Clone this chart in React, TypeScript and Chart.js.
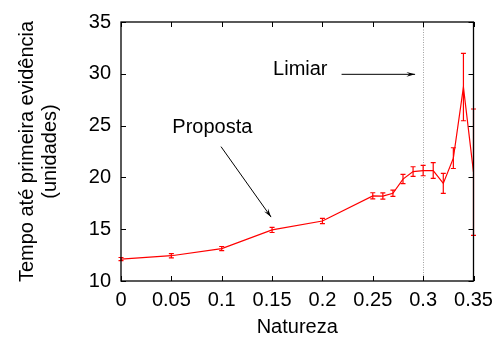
import React, { useEffect, useRef } from "react";
import { Chart, registerables } from "chart.js";

Chart.register(...registerables);

// Natureza values (x) and mean time to first evidence (y) with ± error
const natureza = [0, 0.05, 0.1, 0.15, 0.2, 0.25, 0.26, 0.27, 0.28, 0.29, 0.3, 0.31, 0.32, 0.33, 0.34, 0.35];
const tempo = [12.12, 12.44, 13.13, 14.93, 15.79, 18.22, 18.2, 18.47, 19.84, 20.56, 20.66, 20.66, 19.42, 21.86, 28.72, 20.5];
const erro = [0.15, 0.2, 0.2, 0.25, 0.25, 0.3, 0.3, 0.3, 0.45, 0.47, 0.5, 0.76, 0.97, 1.0, 3.25, 6.1];

const xTicks = [0, 0.05, 0.1, 0.15, 0.2, 0.25, 0.3, 0.35];
const yTicks = [10, 15, 20, 25, 30, 35];

const limiar = 0.3;

// Annotation anchors in data coordinates
const limiarLabel = { text: "Limiar", x: 0.151, y: 29.84 };
const limiarArrow = { x0: 0.219, y0: 29.95, x1: 0.292, y1: 29.95 };
const propostaLabel = { text: "Proposta", x: 0.051, y: 24.33 };
const propostaArrow = { x0: 0.0993, y0: 22.97, x1: 0.149, y1: 16.17 };

const FONT = '"Liberation Sans", Arial, Helvetica, sans-serif';
const FS = 20;
const RED = "#ff0000";

function drawArrow(ctx: CanvasRenderingContext2D, x0: number, y0: number, x1: number, y1: number) {
  const ang = Math.atan2(y1 - y0, x1 - x0);
  const head = 9;
  const spread = 0.27;
  ctx.beginPath();
  ctx.moveTo(x0, y0);
  ctx.lineTo(x1, y1);
  ctx.stroke();
  ctx.beginPath();
  ctx.moveTo(x1, y1);
  ctx.lineTo(x1 - head * Math.cos(ang - spread), y1 - head * Math.sin(ang - spread));
  ctx.lineTo(x1 - head * 0.6 * Math.cos(ang), y1 - head * 0.6 * Math.sin(ang));
  ctx.lineTo(x1 - head * Math.cos(ang + spread), y1 - head * Math.sin(ang + spread));
  ctx.closePath();
  ctx.fill();
}

const decorPlugin = {
  id: "decor",
  beforeDatasetsDraw(chart: any) {
    const { ctx, chartArea: a, scales } = chart;
    const xs = scales.x;
    // threshold line
    ctx.save();
    ctx.strokeStyle = "#a0a0a0";
    ctx.lineWidth = 1;
    ctx.setLineDash([1, 1.5]);
    const lx = Math.round(xs.getPixelForValue(limiar)) + 0.5;
    ctx.beginPath();
    ctx.moveTo(lx, a.top);
    ctx.lineTo(lx, a.bottom);
    ctx.stroke();
    ctx.restore();
  },
  afterDatasetsDraw(chart: any) {
    const { ctx, chartArea: a, scales } = chart;
    const xs = scales.x;
    const ys = scales.y;

    // error bars
    ctx.save();
    ctx.strokeStyle = RED;
    ctx.lineWidth = 1.2;
    natureza.forEach((xv, i) => {
      const px = xs.getPixelForValue(xv);
      const top = ys.getPixelForValue(tempo[i] + erro[i]);
      const bot = ys.getPixelForValue(tempo[i] - erro[i]);
      ctx.beginPath();
      ctx.moveTo(px, top);
      ctx.lineTo(px, bot);
      ctx.moveTo(px - 2.5, top);
      ctx.lineTo(px + 2.5, top);
      ctx.moveTo(px - 2.5, bot);
      ctx.lineTo(px + 2.5, bot);
      ctx.stroke();
    });
    ctx.restore();

    // frame and inward ticks
    ctx.save();
    ctx.strokeStyle = "#000";
    ctx.lineWidth = 1.3;
    ctx.strokeRect(a.left, a.top, a.right - a.left, a.bottom - a.top);
    ctx.lineWidth = 1;
    ctx.beginPath();
    const tl = 5;
    xTicks.forEach((v) => {
      const p = Math.round(xs.getPixelForValue(v)) + 0.5;
      ctx.moveTo(p, a.bottom);
      ctx.lineTo(p, a.bottom - tl);
      ctx.moveTo(p, a.top);
      ctx.lineTo(p, a.top + tl);
    });
    yTicks.forEach((v) => {
      const p = Math.round(ys.getPixelForValue(v)) + 0.5;
      ctx.moveTo(a.left, p);
      ctx.lineTo(a.left + tl, p);
      ctx.moveTo(a.right, p);
      ctx.lineTo(a.right - tl, p);
    });
    ctx.stroke();
    ctx.restore();

    // annotations
    ctx.save();
    ctx.fillStyle = "#000";
    ctx.strokeStyle = "#000";
    ctx.lineWidth = 1;
    ctx.font = `${FS}px ${FONT}`;
    ctx.textAlign = "left";
    ctx.textBaseline = "alphabetic";
    ctx.fillText(limiarLabel.text, xs.getPixelForValue(limiarLabel.x), ys.getPixelForValue(limiarLabel.y));
    ctx.fillText(propostaLabel.text, xs.getPixelForValue(propostaLabel.x), ys.getPixelForValue(propostaLabel.y));
    drawArrow(
      ctx,
      xs.getPixelForValue(limiarArrow.x0),
      ys.getPixelForValue(limiarArrow.y0),
      xs.getPixelForValue(limiarArrow.x1),
      ys.getPixelForValue(limiarArrow.y1)
    );
    drawArrow(
      ctx,
      xs.getPixelForValue(propostaArrow.x0),
      ys.getPixelForValue(propostaArrow.y0),
      xs.getPixelForValue(propostaArrow.x1),
      ys.getPixelForValue(propostaArrow.y1)
    );
    ctx.restore();
  },
};

export default function App() {
  const ref = useRef<HTMLCanvasElement | null>(null);

  useEffect(() => {
    if (!ref.current) return;
    const chart = new Chart(ref.current, {
      type: "scatter",
      data: {
        datasets: [
          {
            data: natureza.map((x, i) => ({ x, y: tempo[i] })),
            showLine: true,
            borderColor: RED,
            backgroundColor: RED,
            borderWidth: 1.2,
            pointRadius: 0,
            tension: 0,
          },
        ],
      },
      options: {
        responsive: false,
        animation: false,
        events: [],
        layout: { padding: { top: 17, right: 27.5, left: 0, bottom: 0 } },
        plugins: { legend: { display: false }, tooltip: { enabled: false } },
        scales: {
          x: {
            type: "linear",
            min: 0,
            max: 0.35,
            afterFit: (s: any) => {
              s.height = 66;
            },
            afterBuildTicks: (s: any) => {
              s.ticks = xTicks.map((v) => ({ value: v }));
            },
            grid: { display: false, drawTicks: false },
            border: { display: false },
            ticks: {
              padding: 7,
              color: "#000",
              font: { family: FONT, size: FS },
              maxRotation: 0,
              autoSkip: false,
              callback: (v: any) => String(parseFloat(Number(v).toFixed(2))),
            },
            title: {
              display: true,
              text: "Natureza",
              color: "#000",
              font: { family: FONT, size: FS, lineHeight: 1.2 },
              padding: { top: 0, bottom: 8 },
            },
          },
          y: {
            type: "linear",
            min: 10,
            max: 35,
            afterFit: (s: any) => {
              s.width = 121;
            },
            afterBuildTicks: (s: any) => {
              s.ticks = yTicks.map((v) => ({ value: v }));
            },
            grid: { display: false, drawTicks: false },
            border: { display: false },
            ticks: {
              padding: 10,
              color: "#000",
              font: { family: FONT, size: FS },
              autoSkip: false,
            },
            title: {
              display: true,
              text: ["Tempo até primeira evidência", "(unidades)"],
              color: "#000",
              font: { family: FONT, size: FS, lineHeight: 1.15 },
              padding: { top: 16, bottom: 0 },
            },
          },
        },
      },
      plugins: [decorPlugin],
    });
    return () => chart.destroy();
  }, []);

  return (
    <div style={{ position: "fixed", left: 0, top: 0, width: 501, height: 347, background: "#fff" }}>
      <canvas ref={ref} width={501} height={347} style={{ display: "block" }} />
    </div>
  );
}
